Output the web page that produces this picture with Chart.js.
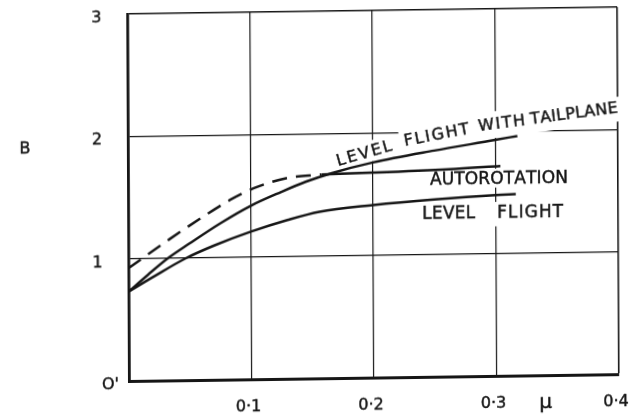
<!DOCTYPE html>
<html>
<head>
<meta charset="utf-8">
<script src="https://cdn.jsdelivr.net/npm/chart.js@4.4.1/dist/chart.umd.min.js"></script>
<style>
  html, body { margin: 0; padding: 0; background: #fff; overflow: hidden; width: 636px; height: 416px; }
  /* the plotted sheet sits very slightly askew */
  #plot { display: block; transform-origin: 129px 381.5px; transform: skew(0.27deg, -0.8deg); }
</style>
</head>
<body>
<canvas id="plot" width="636" height="432"></canvas>
<script>
// Blade-flapping coefficient B against advance ratio μ
const muTailplane = [0, 0.016, 0.032, 0.05, 0.075, 0.1, 0.125, 0.145, 0.1665, 0.2, 0.25, 0.3, 0.318];
const bTailplane  = [0.733, 0.87, 1.0, 1.12, 1.28, 1.42, 1.53, 1.61, 1.678, 1.76, 1.85, 1.93, 1.96];

const muLevel = [0, 0.02, 0.047, 0.07, 0.1, 0.13, 0.156, 0.2, 0.25, 0.3, 0.3165];
const bLevel  = [0.733, 0.85, 1.0, 1.1, 1.209, 1.30, 1.364, 1.413, 1.452, 1.48, 1.485];

// autorotation: estimated (dashed) part, then measured (solid) part
const muAutoDashed = [0, 0.0335, 0.062, 0.085, 0.105, 0.129, 0.158];
const bAutoDashed  = [0.924, 1.156, 1.342, 1.48, 1.572, 1.641, 1.668];
const muAuto = [0.158, 0.2, 0.262, 0.304];
const bAuto  = [1.668, 1.677, 1.696, 1.717];

const xTickValues = [0.1, 0.2, 0.3, 0.4];
const xTickLabels = ['0·1', '0·2', '0·3', '0·4'];
const yTickValues = [1, 2, 3];
const yTickLabels = ['1', '2', '3'];
const zeroLabel = "O'";
const xTitle = 'μ';
const yTitle = 'B';

const INK = '#161616';
const pts = (xs, ys) => xs.map((x, i) => ({ x, y: ys[i] }));

// hand-lettered words placed along the curves (anchor = baseline start, data units)
// pad = [above caps, below baseline, left, right] in pixels of cleared grid
const curveWords = [
  { text: 'LEVEL',        mu: 0.1714, b: 1.735, angle: -15.2, width: 57,  size: 16, pad: [4, 5, 4, 3] },
  { text: 'FLIGHT',       mu: 0.2261, b: 1.891, angle: -10.2, width: 66,  size: 16, pad: [6, 6, 4, 7] },
  { text: 'WITH',         mu: 0.2865, b: 2.005, angle: -6.2,  width: 47,  size: 16, pad: [6, 9, 7, 7] },
  { text: 'TAILPLANE',    mu: 0.3290, b: 2.056, angle: -6.7,  width: 88,  size: 16, pad: [4, 9, 7, 4] },
  { text: 'AUTOROTATION', mu: 0.2465, b: 1.570, angle: 0,     width: 138, size: 17, pad: [3, 3.5, 4, 4] },
  { text: 'LEVEL',        mu: 0.2400, b: 1.290, angle: 0,     width: 53,  size: 17, pad: [4, 8, 4, 4] },
  { text: 'FLIGHT',       mu: 0.3012, b: 1.290, angle: 0,     width: 66,  size: 17, pad: [4, 8, 4, 4] }
];

const FONT = '"DejaVu Sans", sans-serif';

// fill plus a thin stroke gives the pen-lettered weight
function ink(ctx, s, x, y) {
  ctx.fillText(s, x, y);
  ctx.strokeText(s, x, y);
}

function drawSpaced(ctx, text, width) {
  const chars = [...text];
  const natural = chars.reduce((s, c) => s + ctx.measureText(c).width, 0);
  const gap = chars.length > 1 ? (width - natural) / (chars.length - 1) : 0;
  let x = 0;
  for (const c of chars) {
    ink(ctx, c, x, 0);
    x += ctx.measureText(c).width + gap;
  }
}

const lettering = {
  id: 'lettering',
  beforeDatasetsDraw(chart) {
    // clear the grid behind each lettered word
    const { ctx, scales: { x, y } } = chart;
    ctx.save();
    ctx.fillStyle = '#fff';
    for (const w of curveWords) {
      const cap = w.size * 0.73;
      const [pt, pb, pl, pr] = w.pad;
      ctx.save();
      ctx.translate(x.getPixelForValue(w.mu), y.getPixelForValue(w.b));
      ctx.rotate(w.angle * Math.PI / 180);
      ctx.fillRect(-pl, -cap - pt, w.width + pl + pr, cap + pt + pb);
      ctx.restore();
    }
    ctx.restore();
  },
  afterDatasetsDraw(chart) {
    const { ctx, scales: { x, y } } = chart;
    ctx.save();
    ctx.fillStyle = INK;
    ctx.strokeStyle = INK;
    ctx.lineWidth = 0.45;
    ctx.textBaseline = 'alphabetic';
    ctx.textAlign = 'left';
    for (const w of curveWords) {
      ctx.save();
      ctx.font = `${w.size}px ${FONT}`;
      ctx.translate(x.getPixelForValue(w.mu), y.getPixelForValue(w.b));
      ctx.rotate(w.angle * Math.PI / 180);
      drawSpaced(ctx, w.text, w.width);
      ctx.restore();
    }

    // axis numbering
    ctx.font = `16px ${FONT}`;
    ctx.textAlign = 'center';
    ctx.textBaseline = 'middle';
    yTickValues.forEach((v, i) => {
      ink(ctx, yTickLabels[i], x.left - 31, y.getPixelForValue(v) + 3.5);
    });
    xTickValues.forEach((v, i) => {
      ink(ctx, xTickLabels[i], x.getPixelForValue(v) - 3, y.bottom + 27);
    });
    ctx.textAlign = 'left';
    ink(ctx, zeroLabel, x.left - 27, y.bottom + 3.5);
    ctx.textAlign = 'center';
    ink(ctx, yTitle, 26, y.getPixelForValue(1.91));
    ctx.font = `20px ${FONT}`;
    ctx.textBaseline = 'alphabetic';
    ink(ctx, xTitle, x.getPixelForValue(0.34), y.bottom + 32);
    ctx.restore();
  }
};

const lineStyle = {
  borderColor: INK,
  borderWidth: 2.5,
  pointRadius: 0,
  fill: false,
  cubicInterpolationMode: 'monotone'
};

new Chart(document.getElementById('plot'), {
  type: 'line',
  data: {
    datasets: [
      { ...lineStyle, label: 'Level flight with tailplane', data: pts(muTailplane, bTailplane) },
      { ...lineStyle, label: 'Level flight', data: pts(muLevel, bLevel) },
      { ...lineStyle, label: 'Autorotation (estimated)', data: pts(muAutoDashed, bAutoDashed), borderDash: [15, 9] },
      { ...lineStyle, label: 'Autorotation', data: pts(muAuto, bAuto) }
    ]
  },
  options: {
    responsive: false,
    animation: false,
    devicePixelRatio: 1,
    layout: { padding: { left: 129, right: 17, top: 14, bottom: 50.5 } },
    plugins: { legend: { display: false }, tooltip: { enabled: false } },
    scales: {
      x: {
        type: 'linear', min: 0, max: 0.4,
        ticks: { display: false, stepSize: 0.1 },
        grid: {
          drawTicks: false, color: INK,
          lineWidth: c => (c.tick && Math.abs(c.tick.value - 0.4) < 1e-6) ? 1.6 : 1.2
        },
        border: { display: true, width: 3, color: INK }
      },
      y: {
        type: 'linear', min: 0, max: 3,
        ticks: { display: false, stepSize: 1 },
        grid: {
          drawTicks: false, color: INK,
          lineWidth: c => (c.tick && c.tick.value === 3) ? 1.6 : 1.2
        },
        border: { display: true, width: 2.8, color: INK }
      }
    }
  },
  plugins: [lettering]
});
</script>
</body>
</html>
